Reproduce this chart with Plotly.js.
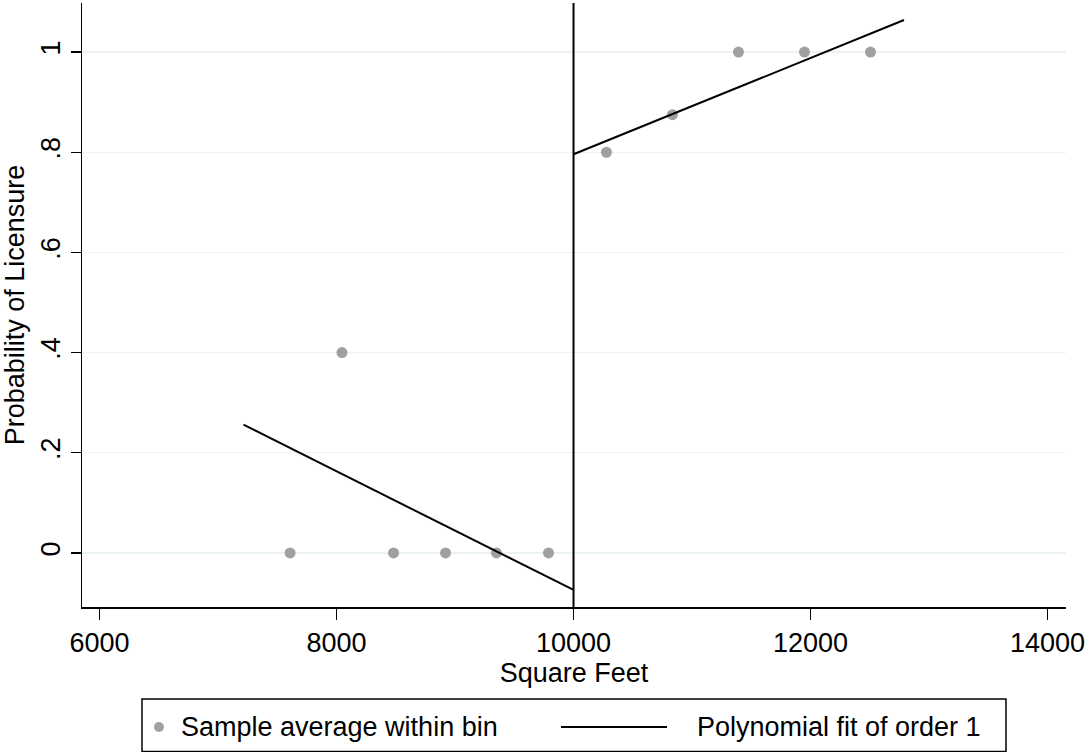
<!DOCTYPE html>
<html><head><meta charset="utf-8">
<script src="https://cdn.plot.ly/plotly-3.0.1.min.js"></script>
<style>html,body{margin:0;padding:0;background:#fff}#chart{width:1089px;height:752px}</style>
</head><body><div id="chart"></div>
<script>
const binX = [7608, 8046, 8481, 8920, 9350, 9789, 10278, 10835, 11392, 11949, 12506];
const binY = [0, 0.4, 0, 0, 0, 0, 0.8, 0.875, 1, 1, 1];
const fitLeftX = [7215, 10000];
const fitLeftY = [0.256, -0.074];
const fitRightX = [10000, 12789];
const fitRightY = [0.796, 1.064];
const cutoff = 10000;
const xTicks = [6000, 8000, 10000, 12000, 14000];
const yTicks = [0, 0.2, 0.4, 0.6, 0.8, 1];
const yTickText = ['0', '.2', '.4', '.6', '.8', '1'];
const legendLabels = ['Sample average within bin', 'Polynomial fit of order 1'];

const FS = 27;
const font = {family: 'Liberation Sans, Arial, Helvetica, sans-serif', size: FS, color: '#000'};
const markerColor = '#a0a0a0';

// plot area in px (for placing the hand-built legend in paper coordinates)
const L = 82, R = 1066, T = 3, B = 607, W = 1089, H = 752;
const px = v => (v - L) / (R - L);
const py = v => (B - v) / (B - T);

const traces = [
  {x: binX, y: binY, type: 'scatter', mode: 'markers', name: legendLabels[0],
   marker: {color: markerColor, size: 11}, showlegend: false},
  {x: fitLeftX, y: fitLeftY, type: 'scatter', mode: 'lines', name: legendLabels[1],
   line: {color: '#000', width: 2}, showlegend: false},
  {x: fitRightX, y: fitRightY, type: 'scatter', mode: 'lines', name: legendLabels[1],
   line: {color: '#000', width: 2}, showlegend: false}
];

const legY = 727;
const layout = {
  width: W, height: H,
  paper_bgcolor: '#fff', plot_bgcolor: '#fff',
  font: font,
  margin: {l: L, r: W - R, t: T, b: H - B},
  showlegend: false,
  xaxis: {range: [5852, 14156], tickvals: xTicks, ticktext: xTicks.map(String),
    showgrid: false, zeroline: false, showline: true, linecolor: '#000', linewidth: 1.5,
    ticks: 'outside', ticklen: 11, tickwidth: 1.5, tickcolor: '#000',
    tickfont: font, title: {text: 'Square Feet', font: font, standoff: 2}},
  yaxis: {range: [-0.108, 1.098], tickvals: yTicks, ticktext: yTickText, tickangle: -90,
    showgrid: true, gridcolor: '#eaf2f3', gridwidth: 1.5, zeroline: false,
    showline: true, linecolor: '#000', linewidth: 1.5,
    ticks: 'outside', ticklen: 10, tickwidth: 1.5, tickcolor: '#000',
    tickfont: font, title: {text: 'Probability of Licensure', font: font, standoff: 4}},
  shapes: [
    {type: 'line', xref: 'x', yref: 'paper', x0: cutoff, x1: cutoff, y0: 0, y1: 1,
     line: {color: '#000', width: 2}},
    // legend frame
    {type: 'rect', xref: 'paper', yref: 'paper', x0: px(142), x1: px(1006), y0: py(699), y1: py(751.5),
     line: {color: '#000', width: 1.5}, fillcolor: 'rgba(0,0,0,0)'},
    // legend marker
    {type: 'circle', xref: 'paper', yref: 'paper', x0: px(154), x1: px(164), y0: py(legY - 5), y1: py(legY + 5),
     line: {width: 0}, fillcolor: markerColor},
    // legend line
    {type: 'line', xref: 'paper', yref: 'paper', x0: px(561), x1: px(667), y0: py(legY), y1: py(legY),
     line: {color: '#000', width: 2}}
  ],
  annotations: [
    {xref: 'paper', yref: 'paper', x: px(179), y: py(legY), xanchor: 'left', yanchor: 'middle',
     text: legendLabels[0], showarrow: false, font: font},
    {xref: 'paper', yref: 'paper', x: px(695), y: py(legY), xanchor: 'left', yanchor: 'middle',
     text: legendLabels[1], showarrow: false, font: font}
  ]
};

Plotly.newPlot('chart', traces, layout, {displayModeBar: false, staticPlot: true});
</script></body></html>
